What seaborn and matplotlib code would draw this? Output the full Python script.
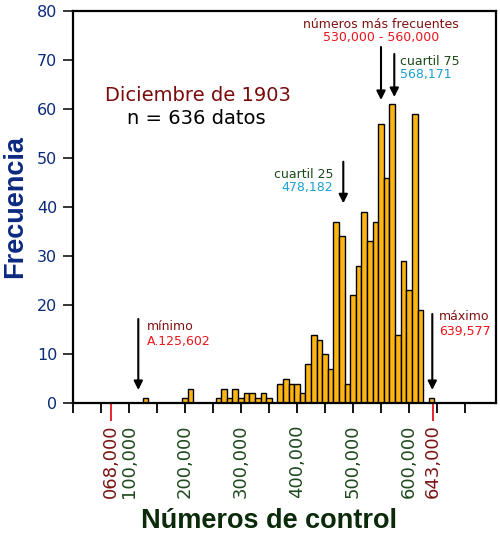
import numpy as np
import pandas as pd
import matplotlib
matplotlib.use("Agg")
import matplotlib.pyplot as plt
import seaborn as sns

# ---- data (bin centres in control numbers, frequencies) ----
bin_centers = [130000, 200000, 210000, 260000, 270000, 280000, 290000, 300000,
               310000, 320000, 330000, 340000, 350000, 370000, 380000, 390000,
               400000, 410000, 420000, 430000, 440000, 450000, 460000, 470000,
               480000, 490000, 500000, 510000, 520000, 530000, 540000, 550000,
               560000, 570000, 580000, 590000, 600000, 610000, 620000, 640000]
frequencies = [1, 1, 3, 1, 3, 1, 3, 1,
               2, 2, 1, 2, 1, 4, 5, 4,
               4, 2, 8, 14, 13, 10, 7, 37,
               34, 4, 22, 28, 39, 33, 37, 57,
               46, 61, 14, 29, 23, 59, 19, 1]
tick_values = [100000, 200000, 300000, 400000, 500000, 600000]
tick_labels = ["100,000", "200,000", "300,000", "400,000", "500,000", "600,000"]
range_values = [68000, 643000]
range_labels = ["068,000", "643,000"]
y_ticks = [0, 10, 20, 30, 40, 50, 60, 70, 80]

df = pd.DataFrame({"numero": bin_centers, "freq": frequencies})

sns.set_style("ticks")
plt.rcParams["font.family"] = ["DejaVu Sans"]

W, H = 500, 548
fig = plt.figure(figsize=(W / 100, H / 100), dpi=100)
L, R, T, B = 72.7, 496.0, 10.7, 403.3
ax = fig.add_axes([L / W, 1 - B / H, (R - L) / W, (B - T) / H])

sns.histplot(data=df, x="numero", weights="freq", binwidth=10000,
             binrange=(125000, 645000), color="#FDB515", alpha=1.0,
             edgecolor="black", linewidth=1.0, ax=ax)

ax.set_xlim(0, 755000)
ax.set_ylim(0, 80)

for s in ax.spines.values():
    s.set_linewidth(1.6)
    s.set_color("black")

# x ticks
all_vals = range_values[:1] + tick_values + range_values[1:]
all_labels = range_labels[:1] + tick_labels + range_labels[1:]
ax.set_xticks(all_vals)
ax.set_xticklabels(all_labels, rotation=90, fontsize=13)
ax.set_xticks(np.arange(0, 700001, 50000), minor=True)
ax.tick_params(axis="x", which="both", direction="out", length=7.2, width=1.3,
               pad=8, color="black")
ax.tick_params(axis="x", which="major", labelcolor="#1e4a1e")
for t, v in zip(ax.xaxis.get_major_ticks(), all_vals):
    if v in range_values:
        t.tick1line.set_markeredgecolor("#e8141c")
        t.tick1line.set_markersize(13)
        t.label1.set_color("#7a1414")

# y ticks
ax.set_yticks(y_ticks)
ax.tick_params(axis="y", direction="out", length=7.2, width=1.3, labelsize=11.5,
               labelcolor="#0a2a78", pad=4)

ax.set_xlabel("Números de control", fontsize=19.5, fontweight="bold",
              family="Liberation Sans", color="#0a2a0a")
ax.xaxis.set_label_coords(0.4626, -0.267)
ax.set_ylabel("Frecuencia", fontsize=19.5, fontweight="bold",
              family="Liberation Sans", color="#0b2a80")
ax.yaxis.set_label_coords(-0.106, 0.5)


def axc(px, py):
    return ((px - L) / (R - L), (B - py) / (B - T))


dark_red = "#801010"
red = "#e8141c"
dark_green = "#1a4a1a"
cyan = "#1a9fd0"
fs = 9

texts = [
    ("números más frecuentes", 381, 24.3, dark_red, "center"),
    ("530,000 - 560,000", 381, 37.7, red, "center"),
    ("cuartil 75", 400, 61, dark_green, "left"),
    ("568,171", 400, 74, cyan, "left"),
    ("cuartil 25", 333, 174, dark_green, "right"),
    ("478,182", 333, 187.7, cyan, "right"),
    ("máximo", 439.3, 316.7, dark_red, "left"),
    ("639,577", 439.3, 331.7, red, "left"),
    ("mínimo", 147.3, 326.7, dark_red, "left"),
    ("A.125,602", 147.3, 341, red, "left"),
]
for s, px, py, c, ha in texts:
    ax.text(*axc(px, py), s, transform=ax.transAxes, color=c, fontsize=fs,
            ha=ha, va="center")

ax.text(*axc(197.5, 95.7), "Diciembre de 1903", transform=ax.transAxes,
        color="#7a0a0a", fontsize=14, ha="center", va="center")
ax.text(*axc(196.7, 118.3), "n = 636 datos", transform=ax.transAxes,
        color="black", fontsize=14, ha="center", va="center")

arrows = [(381, 47, 100), (394.3, 54, 97), (343.3, 161.7, 203.3),
          (432.3, 314, 390), (138.3, 319, 390)]
for px, y0, y1 in arrows:
    ax.annotate("", xy=axc(px, y1), xytext=axc(px, y0),
                xycoords="axes fraction", textcoords="axes fraction",
                arrowprops=dict(arrowstyle="-|>", color="black", lw=1.5,
                                mutation_scale=13, shrinkA=0, shrinkB=0))

fig.savefig("out.png", dpi=100)
